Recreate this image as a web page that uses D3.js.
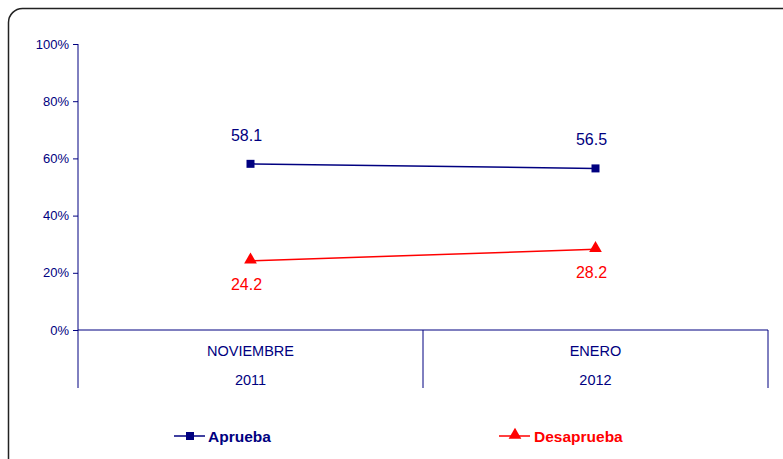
<!DOCTYPE html>
<html><head><meta charset="utf-8">
<script src="https://cdn.jsdelivr.net/npm/d3@7"></script>
<style>body{margin:0;background:#fff}svg{display:block;font-family:Arial,"Liberation Sans",sans-serif}</style>
</head><body><svg id="c" width="783" height="459"></svg>
<script>
const categories = ["NOVIEMBRE","ENERO"];
const years = ["2011","2012"];
const aprueba = [58.1, 56.5];
const desaprueba = [24.2, 28.2];
const yTicks = [0,20,40,60,80,100];

const svg = d3.select("#c");
const navy = "#000080", red = "#ff0000";
svg.append("rect").attr("x",8.5).attr("y",8.5).attr("width",800).attr("height",480)
  .attr("rx",14).attr("fill","#fff").attr("stroke","#222").attr("stroke-width",1.5);

const x0 = 78, x1 = 768, yTop = 44, yBot = 330;
const y = d3.scaleLinear().domain([0,100]).range([yBot,yTop]);
const x = d3.scaleBand().domain(categories).range([x0,x1]);

const yAxis = svg.append("g").attr("transform",`translate(${x0},0)`)
  .call(d3.axisLeft(y).tickValues(yTicks).tickFormat(d=>d+"%").tickSize(5).tickSizeOuter(0));
yAxis.select(".domain").attr("stroke",navy).attr("d",`M0,${yTop}V388`);
yAxis.selectAll(".tick line").attr("stroke",navy);
yAxis.selectAll(".tick text").attr("fill",navy).attr("font-size",13).attr("font-family","Arial, Liberation Sans, sans-serif").attr("dx",-1);

svg.append("line").attr("x1",x0).attr("x2",x1).attr("y1",yBot).attr("y2",yBot).attr("stroke",navy);
categories.forEach((c,i)=>{
  const xr = x(c)+x.bandwidth();
  svg.append("line").attr("x1",xr).attr("x2",xr).attr("y1",yBot).attr("y2",388).attr("stroke",navy);
  const cx = x(c)+x.bandwidth()/2;
  svg.append("text").attr("x",cx).attr("y",356).attr("text-anchor","middle").attr("font-size",14.5).attr("fill",navy).text(c);
  svg.append("text").attr("x",cx).attr("y",385).attr("text-anchor","middle").attr("font-size",14.5).attr("fill",navy).text(years[i]);
});

const cxf = (d,i)=>x(categories[i])+x.bandwidth()/2;
const line = d3.line().x((d,i)=>cxf(d,i)).y(d=>y(d));
svg.append("path").datum(aprueba).attr("d",line).attr("fill","none").attr("stroke",navy).attr("stroke-width",1.5);
svg.append("path").datum(desaprueba).attr("d",line).attr("fill","none").attr("stroke",red).attr("stroke-width",1.5);

const sq = d3.symbol().type(d3.symbolSquare).size(64);
const tri = d3.symbol().type(d3.symbolTriangle).size(70);
aprueba.forEach((v,i)=>{
  svg.append("path").attr("d",sq).attr("transform",`translate(${cxf(v,i)},${y(v)})`).attr("fill",navy);
  svg.append("text").attr("x",cxf(v,i)-4).attr("y",y(v)-23).attr("text-anchor","middle").attr("font-size",16).attr("fill",navy).text(v.toFixed(1));
});
desaprueba.forEach((v,i)=>{
  svg.append("path").attr("d",tri).attr("transform",`translate(${cxf(v,i)},${y(v)-1})`).attr("fill",red);
  svg.append("text").attr("x",cxf(v,i)-4).attr("y",y(v)+29).attr("text-anchor","middle").attr("font-size",16).attr("fill",red).text(v.toFixed(1));
});

// legend
const ly = 436;
svg.append("line").attr("x1",174).attr("x2",205).attr("y1",ly).attr("y2",ly).attr("stroke",navy).attr("stroke-width",1.5);
svg.append("path").attr("d",sq).attr("transform",`translate(190,${ly})`).attr("fill",navy);
svg.append("text").attr("x",208).attr("y",ly+5.5).attr("font-size",15.5).attr("font-weight","bold").attr("fill",navy).text("Aprueba");
svg.append("line").attr("x1",499).attr("x2",530).attr("y1",ly).attr("y2",ly).attr("stroke",red).attr("stroke-width",1.5);
svg.append("path").attr("d",tri).attr("transform",`translate(515,${ly-1})`).attr("fill",red);
svg.append("text").attr("x",534).attr("y",ly+5.5).attr("font-size",15.5).attr("font-weight","bold").attr("fill",red).text("Desaprueba");
</script></body></html>
